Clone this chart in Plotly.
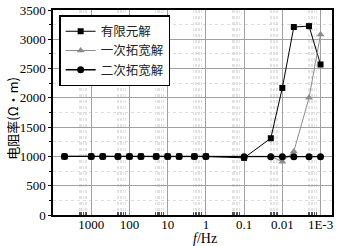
import plotly.graph_objects as go

# data
freq = [5000, 1000, 500, 200, 100, 50, 20, 10, 5, 2, 1, 0.1, 0.02, 0.01, 0.005, 0.002, 0.001]
fem = [1000, 1000, 1000, 1000, 1000, 1000, 1000, 1000, 1000, 1000, 1000, 975, 1310, 2170, 3210, 3225, 2570]
first_ext = [1000, 1000, 1000, 1000, 1000, 1000, 1000, 1000, 1000, 1000, 1000, 990, 1000, 910, 1085, 2000, 3080]
second_ext = [1000, 1000, 1000, 1000, 1000, 1000, 1000, 1000, 1000, 1000, 1000, 995, 995, 995, 995, 995, 995]
names = ["有限元解", "一次拓宽解", "二次拓宽解"]
xtick_vals = [1000, 100, 10, 1, 0.1, 0.01, 0.001]
xtick_text = ["1000", "100", "10", "1", "0.1", "0.01", "1E-3"]
decades = [1000, 100, 10, 1, 0.1, 0.01, 0.001]
band = [1.3, 1.45, 1.6, 1.75, 1.9, 2.05]
minor_x = [d * b for d in decades for b in band]

fig = go.Figure()
fig.add_trace(go.Scatter(x=freq, y=fem, name=names[0], mode="lines+markers",
                         line=dict(color="black", width=1),
                         marker=dict(symbol="square", size=6, color="black")))
fig.add_trace(go.Scatter(x=freq, y=first_ext, name=names[1], mode="lines+markers",
                         line=dict(color="#8c8c8c", width=1),
                         marker=dict(symbol="triangle-up", size=7, color="#8c8c8c")))
fig.add_trace(go.Scatter(x=freq, y=second_ext, name=names[2], mode="lines+markers",
                         line=dict(color="black", width=1.3),
                         marker=dict(symbol="circle", size=7, color="black")))

fig.update_layout(
    width=346, height=246,
    margin=dict(l=53, r=14, t=10, b=31, autoexpand=False),
    paper_bgcolor="white", plot_bgcolor="white",
    font=dict(family="Liberation Serif", size=13, color="black"),
    showlegend=True,
    legend=dict(x=0.022, y=0.975, xanchor="left", yanchor="top",
                bgcolor="white", bordercolor="black", borderwidth=1.5,
                font=dict(family="Noto Sans CJK SC", size=12.5, color="#222"),
                tracegroupgap=0, itemwidth=30),
)
fig.update_xaxes(
    type="log", range=[4.0, -3.3], automargin=False,
    tickvals=xtick_vals, ticktext=xtick_text,
    showgrid=True, gridcolor="#a0a0a0", gridwidth=1,
    showline=True, linecolor="black", linewidth=1.5, mirror=True,
    ticks="", ticklabelstandoff=-3, tickfont=dict(family="Liberation Serif", size=13),
    minor=dict(tickvals=minor_x, showgrid=True, gridcolor="#e2e2e2",
               griddash="dot", gridwidth=1, ticks="inside", ticklen=3,
               tickcolor="#555"),
    zeroline=False,
)
fig.update_yaxes(
    range=[0, 3500], dtick=500, automargin=False,
    showgrid=True, gridcolor="#a0a0a0", gridwidth=1,
    showline=True, linecolor="black", linewidth=1.5, mirror=True,
    ticks="outside", ticklen=3, tickcolor="black",
    tickfont=dict(family="Liberation Serif", size=13),
    minor=dict(dtick=250, showgrid=True, gridcolor="#dcdcdc", griddash="dot",
               ticks="outside", ticklen=2, tickcolor="black"),
    zeroline=False,
)
fig.add_annotation(text="电阻率(Ω·m)", xref="paper", yref="paper",
                   x=-0.143, y=0.47, textangle=-90, showarrow=False,
                   xanchor="center", yanchor="middle",
                   font=dict(family="Noto Sans CJK SC", size=13, color="black"))
fig.add_annotation(text="<i>f</i>/Hz", xref="paper", yref="paper", x=0.545, y=0,
                   yshift=-14, yanchor="top", showarrow=False,
                   font=dict(family="Liberation Serif", size=14, color="black"))

fig.write_html("out.html", config={"displayModeBar": False},
               post_script="document.body.style.margin='0px';")
